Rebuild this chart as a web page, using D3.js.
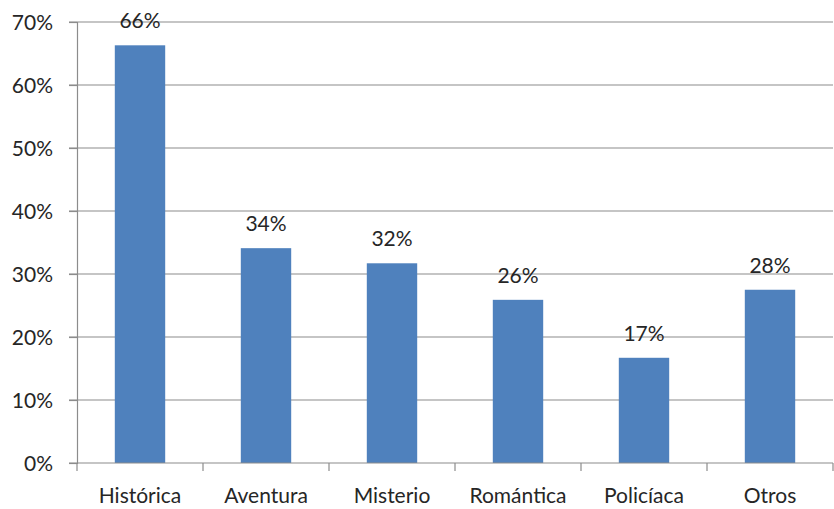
<!DOCTYPE html>
<html>
<head>
<meta charset="utf-8">
<script src="https://cdn.jsdelivr.net/npm/d3@7"></script>
<style>
  body { margin: 0; background: #fff; }
  text { font-family: Lato, "Open Sans", sans-serif; fill: #262626; }
</style>
</head>
<body>
<div id="chart"></div>
<script>
// chart data
var categories = ["Histórica", "Aventura", "Misterio", "Romántica", "Policíaca", "Otros"];
var values = [66.3, 34.1, 31.7, 25.9, 16.7, 27.5];
var labels = ["66%", "34%", "32%", "26%", "17%", "28%"];
var yTicks = [0, 10, 20, 30, 40, 50, 60, 70];

var width = 834;
var height = 509;
var margin = {top: 22, right: 1, bottom: 46, left: 77};

var svg = d3.select("#chart")
  .append("svg")
  .attr("width", width)
  .attr("height", height);

var x = d3.scaleBand()
  .domain(categories)
  .range([margin.left, width - margin.right])
  .paddingInner(0.6)
  .paddingOuter(0.3);

var y = d3.scaleLinear()
  .domain([0, 70])
  .range([height - margin.bottom, margin.top]);

// gridlines
svg.append("g")
  .selectAll("line")
  .data(yTicks.slice(1))
  .enter()
  .append("line")
    .attr("x1", margin.left - 8)
    .attr("x2", width - margin.right)
    .attr("y1", d => y(d))
    .attr("y2", d => y(d))
    .attr("stroke", "#8c8c8c")
    .attr("stroke-width", 1.2);

// y axis
var yAxis = svg.append("g")
  .attr("transform", "translate(" + margin.left + ",0)")
  .call(d3.axisLeft(y).tickValues(yTicks).tickSize(8).tickFormat(d => d + "%"));
yAxis.select(".domain").attr("stroke", "#8c8c8c").attr("stroke-width", 1.2);
yAxis.selectAll(".tick line").attr("stroke", "#8c8c8c").attr("stroke-width", 1.2);
yAxis.selectAll("text")
  .attr("x", -24)
  .attr("dy", "0.36em")
  .style("font-size", "21px");

// bars
svg.append("g")
  .selectAll("rect")
  .data(values)
  .enter()
  .append("rect")
    .attr("x", (d, i) => x(categories[i]))
    .attr("y", d => y(d))
    .attr("width", x.bandwidth())
    .attr("height", d => y(0) - y(d))
    .attr("fill", "#4f81bd");

// x axis
var step = x.step();
var xAxis = svg.append("g")
  .attr("transform", "translate(0," + y(0) + ")");
xAxis.append("line")
  .attr("x1", margin.left - 8)
  .attr("x2", width - margin.right)
  .attr("stroke", "#8c8c8c")
  .attr("stroke-width", 1.2);
xAxis.selectAll(".xtick")
  .data(d3.range(categories.length + 1))
  .enter()
  .append("line")
    .attr("class", "xtick")
    .attr("x1", i => margin.left + i * step)
    .attr("x2", i => margin.left + i * step)
    .attr("y1", 0)
    .attr("y2", 8)
    .attr("stroke", "#8c8c8c")
    .attr("stroke-width", 1.2);
xAxis.selectAll(".xlabel")
  .data(categories)
  .enter()
  .append("text")
    .attr("class", "xlabel")
    .attr("x", d => x(d) + x.bandwidth() / 2)
    .attr("y", 40)
    .attr("text-anchor", "middle")
    .style("font-size", "21px")
    .text(d => d);

// value labels
svg.append("g")
  .selectAll("text")
  .data(values)
  .enter()
  .append("text")
    .attr("x", (d, i) => x(categories[i]) + x.bandwidth() / 2)
    .attr("y", d => y(d) - 17)
    .attr("text-anchor", "middle")
    .style("font-size", "21px")
    .text((d, i) => labels[i]);
</script>
</body>
</html>
